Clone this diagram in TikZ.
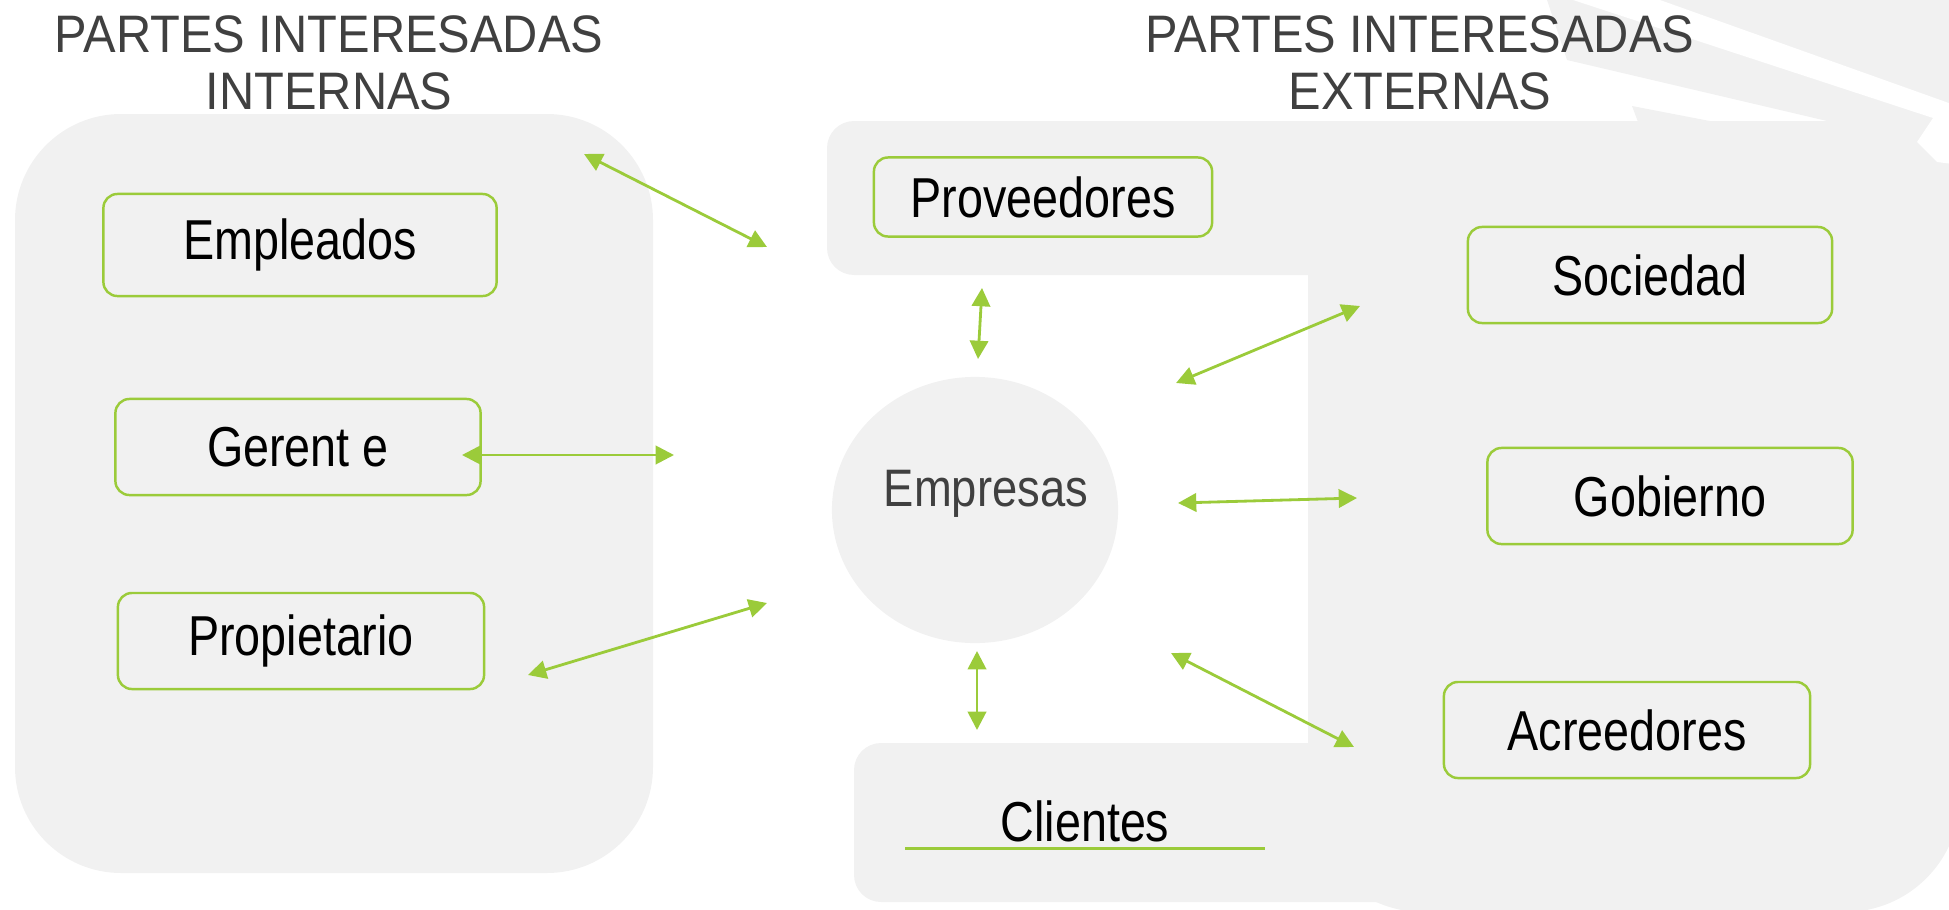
\documentclass[tikz,border=0pt]{standalone}
\usepackage{fontspec}
\setmainfont{Liberation Sans}
\newfontfamily\boxfont[FakeStretch=0.83]{Liberation Sans}
\newfontfamily\headfont[FakeStretch=0.925]{Liberation Sans}
\newfontfamily\hubfont[FakeStretch=0.86]{Liberation Sans}
\usetikzlibrary{shapes.geometric, arrows.meta, positioning}
\definecolor{leafgreen}{RGB}{155, 203, 58}
\definecolor{panelgrey}{RGB}{241, 241, 241}
\definecolor{inkgrey}{RGB}{64, 64, 64}

\begin{document}
\begin{tikzpicture}[x=0.01cm, y=-0.01cm,
  panel/.style={fill=panelgrey, draw=none},
  party/.style={draw=leafgreen, line width=0.7pt, fill=panelgrey, rounded corners=4pt, minimum height=0.96cm, font=\boxfont\fontsize{16}{19}\selectfont, text=black},
  heading/.style={font=\headfont\fontsize{15}{16.2}\selectfont, text=inkgrey, align=center, inner sep=0pt},
  link/.style={leafgreen, line width=0.8pt, {Triangle[length=5.2pt,width=5.2pt]}-{Triangle[length=5.2pt,width=5.2pt]}}]

  \clip (0,0) rectangle (1949,909);

  % grey panels
  \fill[panel, rounded corners=1.06cm] (15,114) rectangle (653,873);
  \fill[panel, rounded corners=0.27cm] (827,121) rectangle (1500,275);
  \fill[panel, rounded corners=0.27cm] (854,743) rectangle (1500,902);
  \fill[panel, rounded corners=1.15cm] (1308,121) rectangle (1960,912);
  \fill[panel] (1547,0) -- (1960,0) -- (1960,300) -- (1827,300) -- (1827,121) -- (1567,60) -- cycle;
  \fill[panel] (1632,106) -- (1638,122) -- (1715,122) -- cycle;
  \fill[white] (1573,0) -- (1660,0) -- (1960,107) -- (1960,165) -- (1937,162) -- (1917,142) -- (1933,118) -- cycle;

  \node[heading] (internas) at (329,63) {PARTES INTERESADAS\\INTERNAS};
  \node[heading] (externas) at (1420,63) {PARTES INTERESADAS\\EXTERNAS};

  \node[party, minimum width=3.93cm, minimum height=1.02cm] (empleados) at (300,245) {Empleados};
  \node[party, minimum width=3.65cm] (gerente) at (298,447) {Gerent e};
  \node[party, minimum width=3.66cm] (propietario) at (301,641) {Propietario};
  \node[party, minimum width=3.38cm, minimum height=0.79cm] (proveedores) at (1043,197) {Proveedores};
  \node[party, minimum width=3.64cm] (sociedad) at (1650,275) {Sociedad};
  \node[party, minimum width=3.65cm] (gobierno) at (1670,496) {Gobierno};
  \node[party, minimum width=3.66cm] (acreedores) at (1627,730) {Acreedores};

  \node[font=\boxfont\fontsize{16}{19}\selectfont, inner sep=0pt, text depth=0.07cm, minimum width=3.58cm, anchor=base] (clientes) at (1085,841) {Clientes};
  \draw[leafgreen, line width=0.95pt] (clientes.south west) -- (clientes.south east);

  \node[ellipse, panel, minimum width=2.86cm, minimum height=2.66cm] (empresa) at (975,510) {};
  \node[font=\hubfont\fontsize{15}{18}\selectfont, text=inkgrey, inner sep=0pt] (empresas) at ([shift={(11,-16)}]empresa.center) {Empresas};

  % arrow ends
  \coordinate (e1) at (584,154);  \coordinate (e2) at (767,247);
  \coordinate (g1) at (462,455);  \coordinate (g2) at (674,455);
  \coordinate (p1) at (528,675);  \coordinate (p2) at (767,603);
  \coordinate (v1) at (982,288);  \coordinate (v2) at (978,359);
  \coordinate (s1) at (1176,383); \coordinate (s2) at (1360,306);
  \coordinate (b1) at (1178,503); \coordinate (b2) at (1357,498);
  \coordinate (a1) at (1171,653); \coordinate (a2) at (1354,747);
  \coordinate (c1) at (977,651);  \coordinate (c2) at (977,730);

  \foreach \from/\to in {e1/e2, g1/g2, p1/p2, v1/v2, s1/s2, b1/b2, a1/a2, c1/c2}
    \draw[link] (\from) -- (\to);
\end{tikzpicture}
\end{document}
